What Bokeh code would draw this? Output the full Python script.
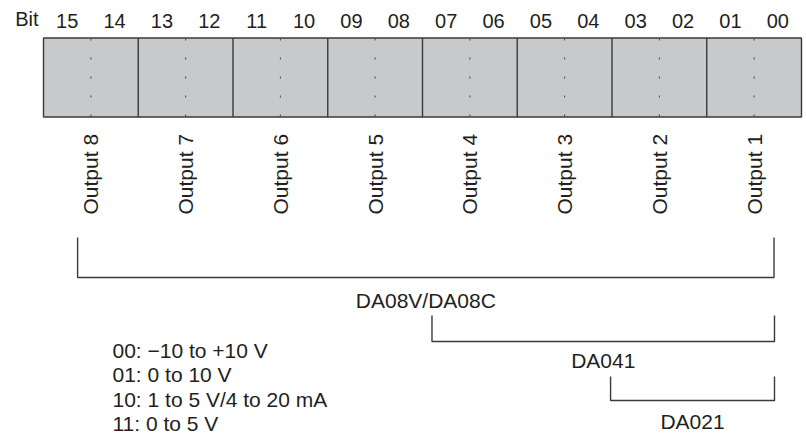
import math
from bokeh.plotting import figure
from bokeh.models import Range1d
from bokeh.core.properties import value
from bokeh.embed import file_html
from bokeh.resources import INLINE

# ---------------- data ----------------
bit_numbers = [15, 14, 13, 12, 11, 10, 9, 8, 7, 6, 5, 4, 3, 2, 1, 0]
bit_labels = ["15", "14", "13", "12", "11", "10", "09", "08",
              "07", "06", "05", "04", "03", "02", "01", "00"]
output_names = ["Output 8", "Output 7", "Output 6", "Output 5",
                "Output 4", "Output 3", "Output 2", "Output 1"]
output_high_bits = [15, 13, 11, 9, 7, 5, 3, 1]
module_names = ["DA08V/DA08C", "DA041", "DA021"]
module_from_bit = [15.28, 7.8, 4.03]   # bracket left end (bit position)
module_to_bit = [0.58, 0.57, 0.57]     # bracket right end (bit position)
range_lines = ["00: \u221210 to +10 V", "01: 0 to 10 V",
               "10: 1 to 5 V/4 to 20 mA", "11: 0 to 5 V"]

# ---------------- layout constants ----------------
W, H = 806, 437
PX_PER_BIT = 47.375
LEFT_PX = 43.0          # box left edge from frame left
X_START = 16 + LEFT_PX / PX_PER_BIT
X_END = X_START - W / PX_PER_BIT
BOX_TOP, BOX_BOTTOM = 37.5, 116.5
BIT_LABEL_Y = 20
OUTPUT_Y = 214
BRACKET_ROWS = [(237, 277), (315, 341), (376, 400)]
MODULE_LABEL_Y = [300, 359.5, 421]
LEGEND_X = 16 - (112 - LEFT_PX) / PX_PER_BIT
LEGEND_Y0, LEGEND_DY = 349.5, 24.6

FONT = value("Liberation Sans")
TEXT_COLOR = "#231f20"
LINE_COLOR = "#3a3a3a"

p = figure(width=W, height=H, output_backend="svg", toolbar_location=None,
           x_range=Range1d(X_START, X_END), y_range=Range1d(H, 0),
           min_border=0)
p.axis.visible = False
p.xgrid.visible = False
p.ygrid.visible = False
p.outline_line_color = None
p.background_fill_color = "white"
p.border_fill_color = "white"

# register box
p.quad(left=[16], right=[0], top=[BOX_TOP], bottom=[BOX_BOTTOM],
       fill_color="#c8c9cb", line_color=LINE_COLOR, line_width=1.4)

group_edges = [b for b in bit_numbers if b % 2 == 0 and 0 < b < 16]
p.segment(x0=group_edges, x1=group_edges,
          y0=[BOX_TOP] * len(group_edges), y1=[BOX_BOTTOM] * len(group_edges),
          line_color=LINE_COLOR, line_width=1.4)

mid_lines = [b for b in bit_numbers if b % 2 == 1]
p.segment(x0=mid_lines, x1=mid_lines,
          y0=[BOX_TOP + 0.5] * len(mid_lines), y1=[BOX_BOTTOM] * len(mid_lines),
          line_color="#444444", line_width=1, line_dash="2 17")

# bit labels
p.text(x=[b + 0.5 for b in bit_numbers], y=[BIT_LABEL_Y] * len(bit_numbers),
       text=bit_labels, text_font=FONT, text_font_size="20px",
       text_color=TEXT_COLOR, text_align="center", text_baseline="middle")
p.text(x=[16], y=[BIT_LABEL_Y - 2], text=["Bit"], x_offset=-5,
       text_font=FONT, text_font_size="20px", text_color=TEXT_COLOR,
       text_align="right", text_baseline="middle")

# output labels (rotated)
p.text(x=output_high_bits, y=[OUTPUT_Y] * len(output_high_bits),
       text=output_names, angle=math.pi / 2, text_font=FONT,
       text_font_size="21px", text_color=TEXT_COLOR,
       text_align="left", text_baseline="middle")

# module brackets
xs, ys = [], []
for f, t, (yt, yb) in zip(module_from_bit, module_to_bit, BRACKET_ROWS):
    xs.append([f, f, t, t])
    ys.append([yt, yb, yb, yt])
p.multi_line(xs=xs, ys=ys, line_color=LINE_COLOR, line_width=1.4)

p.text(x=[(f + t) / 2 for f, t in zip(module_from_bit, module_to_bit)],
       y=MODULE_LABEL_Y, text=module_names, text_font=FONT,
       text_font_size="21px", text_color=TEXT_COLOR,
       text_align="center", text_baseline="middle")

# range legend
p.text(x=[LEGEND_X] * len(range_lines),
       y=[LEGEND_Y0 + i * LEGEND_DY for i in range(len(range_lines))],
       text=range_lines, text_font=FONT, text_font_size="21px",
       text_color=TEXT_COLOR, text_align="left", text_baseline="middle")

open("out.html", "w").write(file_html(p, INLINE))
